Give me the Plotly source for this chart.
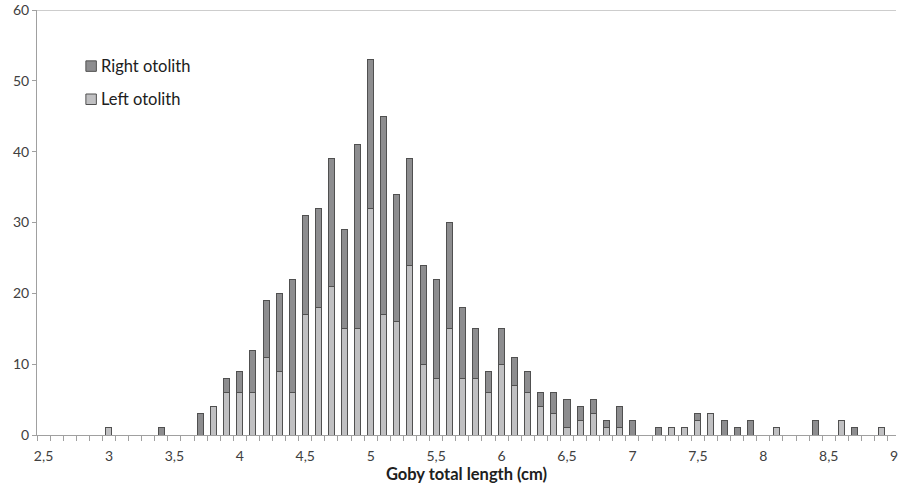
import plotly.graph_objects as go

# Goby total length classes (cm)
lengths = [round(2.5 + 0.1 * i, 1) for i in range(66)]

left_vals = {3.0: 1, 3.8: 4, 3.9: 6, 4.0: 6, 4.1: 6, 4.2: 11, 4.3: 9, 4.4: 6,
             4.5: 17, 4.6: 18, 4.7: 21, 4.8: 15, 4.9: 15, 5.0: 32, 5.1: 17,
             5.2: 16, 5.3: 24, 5.4: 10, 5.5: 8, 5.6: 15, 5.7: 8, 5.8: 8,
             5.9: 6, 6.0: 10, 6.1: 7, 6.2: 6, 6.3: 4, 6.4: 3, 6.5: 1, 6.6: 2,
             6.7: 3, 6.8: 1, 6.9: 1, 7.3: 1, 7.4: 1, 7.5: 2, 7.6: 3, 8.1: 1,
             8.6: 2, 8.9: 1}
right_vals = {3.4: 1, 3.7: 3, 3.9: 2, 4.0: 3, 4.1: 6, 4.2: 8, 4.3: 11, 4.4: 16,
              4.5: 14, 4.6: 14, 4.7: 18, 4.8: 14, 4.9: 26, 5.0: 21, 5.1: 28,
              5.2: 18, 5.3: 15, 5.4: 14, 5.5: 14, 5.6: 15, 5.7: 10, 5.8: 7,
              5.9: 3, 6.0: 5, 6.1: 4, 6.2: 3, 6.3: 2, 6.4: 3, 6.5: 4, 6.6: 2,
              6.7: 2, 6.8: 1, 6.9: 3, 7.0: 2, 7.2: 1, 7.5: 1, 7.7: 2, 7.8: 1,
              7.9: 2, 8.4: 2, 8.7: 1}

left_otolith = [left_vals.get(x, 0) for x in lengths]
right_otolith = [right_vals.get(x, 0) for x in lengths]

tick_vals = [2.5, 3.0, 3.5, 4.0, 4.5, 5.0, 5.5, 6.0, 6.5, 7.0, 7.5, 8.0, 8.5, 9.0]
tick_text = ["2,5", "3", "3,5", "4", "4,5", "5", "5,5", "6", "6,5", "7", "7,5", "8", "8,5", "9"]

series_names = ["Right otolith", "Left otolith"]

FONT = "Lato, 'Open Sans', sans-serif"
LEFT_COLOR = "#c0c0c2"
RIGHT_COLOR = "#8d8d8f"
outline = dict(color="#505050", width=1)

fig = go.Figure()
fig.add_trace(go.Bar(x=lengths, y=left_otolith, name=series_names[1], width=0.046,
                     marker=dict(color=LEFT_COLOR, line=outline), showlegend=False))
fig.add_trace(go.Bar(x=lengths, y=right_otolith, name=series_names[0], width=0.046,
                     marker=dict(color=RIGHT_COLOR, line=outline), showlegend=False))

# Manual legend (Excel-style: small square right next to the label)
legend_items = [(series_names[0], RIGHT_COLOR, 0.868), (series_names[1], LEFT_COLOR, 0.790)]
shapes = [dict(type="line", xref="paper", yref="y", x0=0, x1=1, y0=60, y1=60,
               line=dict(color="#bdbdbd", width=1.5))]
annotations = []
sq_h = 10.5 / 425
for name, color, yc in legend_items:
    shapes.append(dict(type="rect", xref="paper", yref="paper",
                       x0=(86 - 37) / 861, x1=(96.5 - 37) / 861,
                       y0=yc - sq_h / 2, y1=yc + sq_h / 2,
                       fillcolor=color, line=dict(color="#505050", width=1)))
    annotations.append(dict(text=name, xref="paper", yref="paper",
                            x=(99 - 37) / 861, y=yc, xanchor="left", yanchor="middle",
                            showarrow=False, font=dict(size=16.5, color="#202020")))

fig.update_layout(
    width=898, height=490,
    margin=dict(l=37, r=0, t=10, b=55),
    barmode="stack",
    showlegend=False,
    plot_bgcolor="white", paper_bgcolor="white",
    font=dict(family=FONT, size=14, color="#404040"),
    xaxis=dict(range=[2.45, 9.014], tickvals=tick_vals, ticktext=tick_text,
               ticks="", showgrid=False, zeroline=False,
               showline=True, linecolor="#a0a0a0", linewidth=1,
               ticklabeloverflow="allow", ticklabelstandoff=8,
               tickfont=dict(size=14, color="#404040"),
               minor=dict(tick0=2.45, dtick=0.1, ticks="outside", ticklen=5,
                          tickcolor="#a0a0a0", showgrid=False),
               title=dict(text="<b>Goby total length (cm)</b>",
                          font=dict(size=16.5, color="#202020"), standoff=3)),
    yaxis=dict(range=[0, 60], tickvals=[0, 10, 20, 30, 40, 50, 60],
               ticks="outside", ticklen=4, tickcolor="#a0a0a0",
               showgrid=False, zeroline=False,
               showline=True, linecolor="#a0a0a0", linewidth=1,
               tickfont=dict(size=14, color="#404040")),
    shapes=shapes,
    annotations=annotations,
)

fig.write_html("out.html")
